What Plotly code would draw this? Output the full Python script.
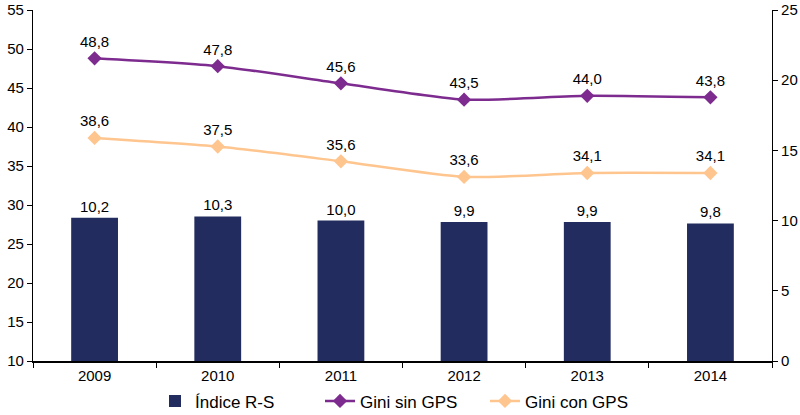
import plotly.graph_objects as go

years = ["2009", "2010", "2011", "2012", "2013", "2014"]
indice_rs = [10.2, 10.3, 10.0, 9.9, 9.9, 9.8]
gini_sin = [48.8, 47.8, 45.6, 43.5, 44.0, 43.8]
gini_con = [38.6, 37.5, 35.6, 33.6, 34.1, 34.1]

left_ticks = [10, 15, 20, 25, 30, 35, 40, 45, 50, 55]
right_ticks = [0, 5, 10, 15, 20, 25]

def fmt(v):
    return f"{v:.1f}".replace(".", ",")

FAM = "Liberation Sans, Arial, sans-serif"
font = dict(family=FAM, size=15, color="#000000")

fig = go.Figure()
fig.add_trace(go.Bar(
    x=years, y=indice_rs, name="Índice R-S",
    marker=dict(color="#232C5F", line=dict(width=0)),
    width=0.38,
    text=[fmt(v) for v in indice_rs], textposition="outside",
    textfont=font, cliponaxis=False, yaxis="y",
))
fig.add_trace(go.Scatter(
    x=years, y=gini_sin, name="Gini sin GPS", yaxis="y2",
    mode="lines+markers+text",
    line=dict(color="#7D2B8F", width=2.5, shape="spline", smoothing=0.6),
    marker=dict(symbol="diamond", size=11, color="#7D2B8F"),
    text=[fmt(v) for v in gini_sin], textposition="top center",
    textfont=font, cliponaxis=False,
))
fig.add_trace(go.Scatter(
    x=years, y=gini_con, name="Gini con GPS", yaxis="y2",
    mode="lines+markers+text",
    line=dict(color="#FFC58F", width=2.5, shape="spline", smoothing=0.6),
    marker=dict(symbol="diamond", size=11, color="#FFC58F"),
    text=[fmt(v) for v in gini_con], textposition="top center",
    textfont=font, cliponaxis=False,
))

fig.update_layout(
    width=800, height=415,
    margin=dict(l=33, r=28, t=10, b=54, autoexpand=False),
    plot_bgcolor="white", paper_bgcolor="white",
    font=font,
    separators=",.",
    showlegend=True,
    legend=dict(orientation="h", x=0.5, xanchor="center", y=-0.115, yanchor="middle",
                font=dict(family=FAM, size=17, color="#000000"),
                traceorder="normal", entrywidth=120, entrywidthmode="pixels"),
    xaxis=dict(type="category", showline=True, linecolor="black", linewidth=2,
               ticks="outside", tickson="boundaries", ticklen=5, tickcolor="black",
               showgrid=False, tickfont=font, range=[-0.5, 5.5], automargin=False),
    yaxis=dict(side="right", range=[0, 25], tickvals=right_ticks, showline=True,
               linecolor="black", linewidth=1.2, ticks="outside", ticklen=5,
               tickcolor="black", showgrid=False, zeroline=False, tickfont=font,
               automargin=False),
    yaxis2=dict(side="left", overlaying="y", range=[10, 55], tickvals=left_ticks,
                showline=True, linecolor="black", linewidth=1.2, ticks="outside",
                ticklen=5, tickcolor="black", showgrid=False, zeroline=False,
                tickfont=font, anchor="x", automargin=False),
)

fig.write_html("out.html", config={"displayModeBar": False},
               post_script="document.body.style.margin='0';document.body.style.overflow='hidden';")
